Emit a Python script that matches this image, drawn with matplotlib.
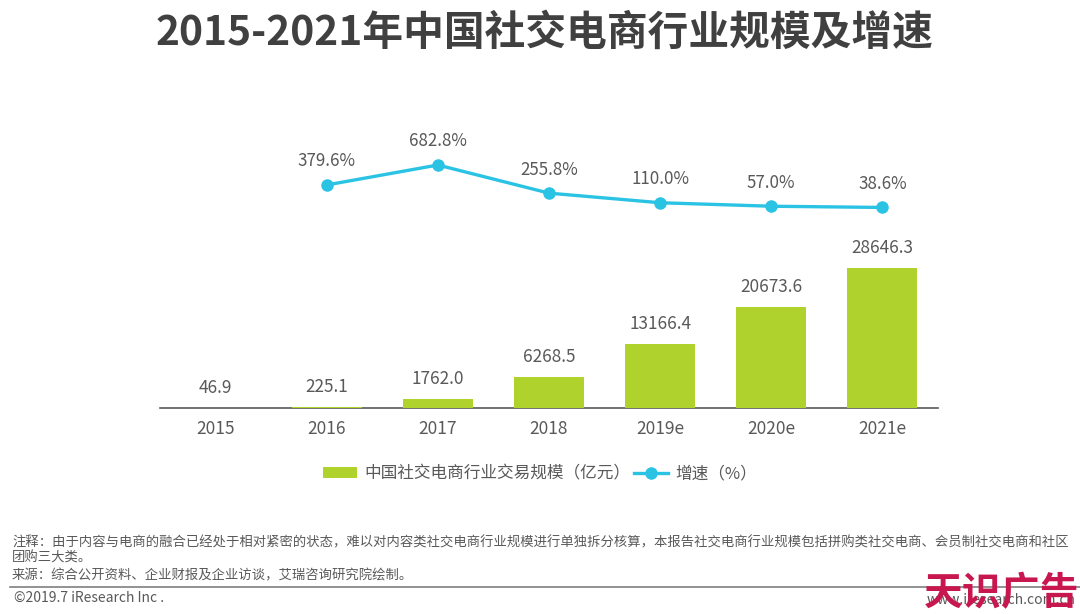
import numpy as np
import matplotlib
matplotlib.use('Agg')
import matplotlib.pyplot as plt

plt.rcParams['font.family'] = ['Noto Sans CJK SC', 'DejaVu Sans']

years = ['2015', '2016', '2017', '2018', '2019e', '2020e', '2021e']
scale = [46.9, 225.1, 1762.0, 6268.5, 13166.4, 20673.6, 28646.3]
growth_years = ['2016', '2017', '2018', '2019e', '2020e', '2021e']
growth = [379.6, 682.8, 255.8, 110.0, 57.0, 38.6]

title = '2015-2021年中国社交电商行业规模及增速'
note1 = '注释：由于内容与电商的融合已经处于相对紧密的状态，难以对内容类社交电商行业规模进行单独拆分核算，本报告社交电商行业规模包括拼购类社交电商、会员制社交电商和社区'
note2 = '团购三大类。'
source = '来源：综合公开资料、企业财报及企业访谈，艾瑞咨询研究院绘制。'
copyright_text = '©2019.7 iResearch Inc .'

W, H = 1080, 614
text_col = '#595959'
bar_col = '#AFD22C'
line_col = '#2BC3E4'

fig = plt.figure(figsize=(W / 100, H / 100), dpi=100)
ax = fig.add_axes([160 / W, 1 - 408 / H, 778 / W, 278 / H])

x = np.arange(len(years))
bars = ax.bar(x, scale, width=0.63, color=bar_col, zorder=3, label='中国社交电商行业交易规模（亿元）')
ax.set_xlim(-0.5, 6.5)
ax.set_ylim(0, 56900)
ax.set_xticks(x)
ax.set_xticklabels(years, fontsize=12.5, color=text_col)
ax.tick_params(axis='x', length=0, pad=9)
ax.set_yticks([])
for s in ['top', 'left', 'right']:
    ax.spines[s].set_visible(False)
ax.spines['bottom'].set_color('#595959')
ax.spines['bottom'].set_linewidth(1.2)
for i in range(len(scale)):
    ax.annotate('{:.1f}'.format(scale[i]), (x[i], scale[i]), xytext=(0, 8),
                textcoords='offset points', ha='center', va='bottom',
                fontsize=12.4, color=text_col)

ax2 = ax.twinx()
xg = [years.index(y) for y in growth_years]
ln, = ax2.plot(xg, growth, color=line_col, lw=2.4, marker='o', ms=8,
               label='增速（%）')
ax2.set_ylim(-3005, 1214)
ax2.axis('off')
for i in range(len(growth)):
    ax2.annotate('{:.1f}%'.format(growth[i]), (xg[i], growth[i]), xytext=(0, 10.5),
                 textcoords='offset points', ha='center', va='bottom',
                 fontsize=12.2, color=text_col)

fig.legend(handles=[bars, ln], loc='center', bbox_to_anchor=(540 / W, 1 - 474 / H),
           ncol=2, frameon=False, fontsize=12, labelcolor=text_col,
           handlelength=2.05, handleheight=0.6, columnspacing=0.25, handletextpad=0.4)

fig.text(545 / W, 1 - 33 / H, title, ha='center', va='center', fontsize=29.3,
         fontweight='bold', color='#404040')

fig.text(12 / W, 1 - 542 / H, note1, ha='left', va='center', fontsize=9.6, color=text_col)
fig.text(12 / W, 1 - 558 / H, note2, ha='left', va='center', fontsize=9.6, color=text_col)
fig.text(12 / W, 1 - 575 / H, source, ha='left', va='center', fontsize=9.6, color=text_col)
fig.text(14 / W, 1 - 598 / H, copyright_text, ha='left', va='center', fontsize=10, color=text_col)
fig.add_artist(plt.Line2D([10 / W, 1], [1 - 587 / H, 1 - 587 / H], color='#7f7f7f', lw=1.2))

fig.text(1076 / W, 1 - 600 / H, 'www.iresearch.com.cn', ha='right', va='center',
         fontsize=10, color=text_col)
fig.text(1002 / W, 1 - 594 / H, '天识广告', ha='center', va='center', fontsize=28,
         fontweight='bold', color='#C8174F')

plt.savefig('out.png', dpi=100)
